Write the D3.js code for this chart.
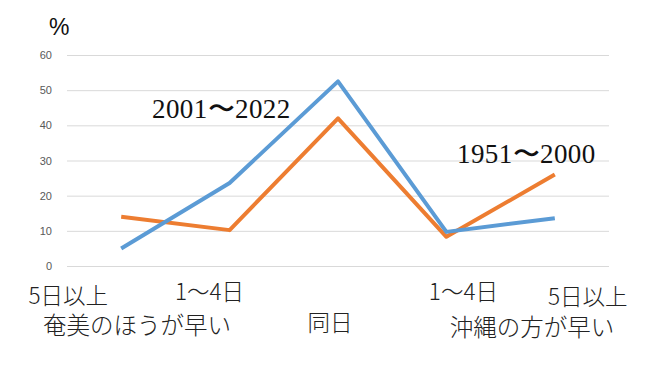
<!DOCTYPE html>
<html>
<head>
<meta charset="utf-8">
<script src="https://cdn.jsdelivr.net/npm/d3@7"></script>
<style>
  body { margin: 0; background: #fff; }
  svg { display: block; }
</style>
</head>
<body>
<div id="chart"></div>
<script>
const FRAME_WIDTH = 648;
const FRAME_HEIGHT = 370;
const MARGINS = {left: 67, right: 39, top: 55, bottom: 104};
const VIS_WIDTH = FRAME_WIDTH - MARGINS.left - MARGINS.right;
const VIS_HEIGHT = FRAME_HEIGHT - MARGINS.top - MARGINS.bottom;

// data
const CATEGORIES = ["5日以上(奄美)", "1〜4日(奄美)", "同日", "1〜4日(沖縄)", "5日以上(沖縄)"];
const RECENT = [5, 23.6, 52.5, 9.7, 13.6];     // 2001〜2022
const OLDER = [14, 10.2, 42, 8.3, 26];        // 1951〜2000
const Y_TICKS = [0, 10, 20, 30, 40, 50, 60];
const CAT_LABELS = ["5日以上", "1〜4日", "同日", "1〜4日", "5日以上"];
const SIDE_LABELS = ["奄美のほうが早い", "沖縄の方が早い"];
const SERIES_LABELS = ["2001〜2022", "1951〜2000"];

const JP_FONT = "'Noto Sans CJK JP', 'Noto Sans', sans-serif";

const SVG = d3.select("#chart")
  .append("svg")
    .attr("width", FRAME_WIDTH)
    .attr("height", FRAME_HEIGHT);

const X_SCALE = d3.scaleBand()
  .domain(CATEGORIES)
  .range([0, VIS_WIDTH]);

const Y_SCALE = d3.scaleLinear()
  .domain([0, 60])
  .range([VIS_HEIGHT, 0]);

const G = SVG.append("g")
  .attr("transform", "translate(" + MARGINS.left + "," + MARGINS.top + ")");

// gridlines + y labels
const yAxis = G.append("g")
  .call(d3.axisLeft(Y_SCALE).tickValues(Y_TICKS).tickSize(-VIS_WIDTH).tickPadding(15));
yAxis.select(".domain").remove();
yAxis.selectAll(".tick line").attr("stroke", "#d9d9d9").attr("stroke-width", 1);
yAxis.selectAll(".tick text")
  .attr("fill", "#595959")
  .attr("font-size", "11px")
  .attr("font-family", "'Liberation Sans', Arial, sans-serif");

// "%" unit
SVG.append("text")
  .attr("x", 49)
  .attr("y", 35)
  .attr("font-size", "23px")
  .attr("font-family", "'Liberation Sans', Arial, sans-serif")
  .attr("fill", "#111")
  .text("%");

const cx = (d, i) => X_SCALE(CATEGORIES[i]) + X_SCALE.bandwidth() / 2;
const line = d3.line()
  .x(cx)
  .y((d) => Y_SCALE(d));

G.append("path")
  .datum(OLDER)
  .attr("fill", "none")
  .attr("stroke", "#ed7d31")
  .attr("stroke-width", 4)
  .attr("stroke-linejoin", "round")
  .attr("d", line);

G.append("path")
  .datum(RECENT)
  .attr("fill", "none")
  .attr("stroke", "#5b9bd5")
  .attr("stroke-width", 4)
  .attr("stroke-linejoin", "round")
  .attr("d", line);

// series annotations (serif, as in the picture)
const ANNOT_POS = [{x: 152, y: 118}, {x: 457, y: 163}];
SVG.selectAll(".annot")
  .data(SERIES_LABELS)
  .enter()
  .append("text")
    .attr("class", "annot")
    .attr("x", (d, i) => ANNOT_POS[i].x)
    .attr("y", (d, i) => ANNOT_POS[i].y)
    .attr("font-size", "27px")
    .attr("font-weight", 300)
    .attr("letter-spacing", "0.4px")
    .attr("font-family", "'Liberation Serif', 'DejaVu Serif', serif")
    .attr("fill", "#111")
    .text((d) => d);

// category labels, shifted from the band centres like the hand-placed boxes
const LABEL_SHIFT = [-53, -20, -8, 17, 33];
const LABEL_Y = [304, 300, 331, 300, 305];
SVG.selectAll(".cat")
  .data(CAT_LABELS)
  .enter()
  .append("text")
    .attr("class", "cat")
    .attr("x", (d, i) => MARGINS.left + cx(d, i) + LABEL_SHIFT[i])
    .attr("y", (d, i) => LABEL_Y[i])
    .attr("text-anchor", "middle")
    .attr("font-size", "22.5px")
    .attr("font-weight", 300)
    .attr("font-family", JP_FONT)
    .attr("fill", "#222")
    .text((d) => d);

const SIDE_POS = [{x: 137, y: 334}, {x: 532, y: 336}];
SVG.selectAll(".side")
  .data(SIDE_LABELS)
  .enter()
  .append("text")
    .attr("class", "side")
    .attr("x", (d, i) => SIDE_POS[i].x)
    .attr("y", (d, i) => SIDE_POS[i].y)
    .attr("text-anchor", "middle")
    .attr("font-size", "23.5px")
    .attr("font-weight", 300)
    .attr("font-family", JP_FONT)
    .attr("fill", "#222")
    .text((d) => d);
</script>
</body>
</html>
